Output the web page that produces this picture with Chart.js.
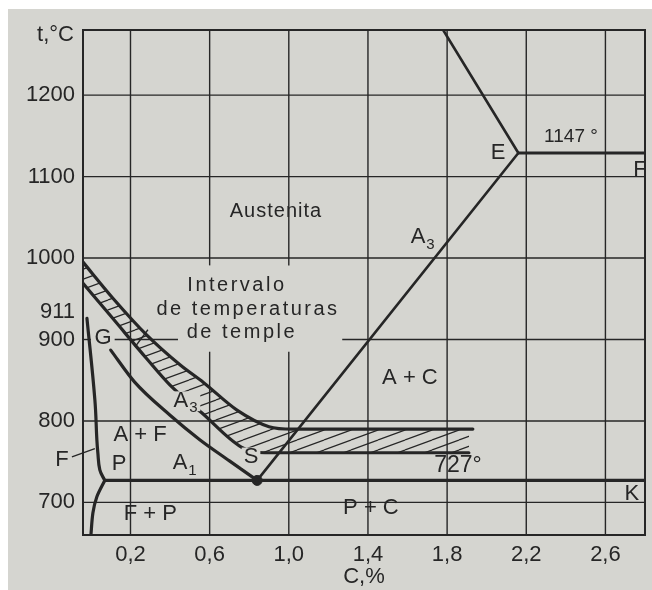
<!DOCTYPE html>
<html>
<head>
<meta charset="utf-8">
<script src="https://cdn.jsdelivr.net/npm/chart.js@4"></script>
<style>
  html, body { margin: 0; padding: 0; background: #fff; }
</style>
</head>
<body>
<canvas id="diagram" width="652" height="590"></canvas>
<script>
const INK = '#262626';
const PAPER = '#d5d5d0';
const FONT = "'Liberation Sans', Arial, sans-serif";

// axes: carbon content (C, %) and temperature (t, °C)
const carbonTicks = [0.2, 0.6, 1.0, 1.4, 1.8, 2.2, 2.6];
const tempTicks = [700, 800, 900, 1000, 1100, 1200];

// diagram lines, pairs of [C %, t °C]
const bandTop = [[-0.04, 995], [0.11, 951], [0.28, 906], [0.45, 869], [0.57, 847], [0.74, 813], [0.90, 793], [1.02, 790], [1.93, 790]];
const bandBottom = [[-0.04, 969], [0.11, 926], [0.28, 877], [0.40, 844], [0.56, 810], [0.76, 768], [0.88, 761], [1.91, 761]];
const lineGS = [[0.10, 887], [0.22, 848], [0.40, 807], [0.55, 777], [0.70, 751], [0.84, 727]];
const lineGP = [[-0.02, 926], [0.02, 826], [0.03, 777], [0.035, 761], [0.045, 740], [0.07, 727]];
const linePQ = [[0.07, 727], [0.03, 707], [0.01, 687], [0.00, 660]];
const linePSK = [[0.07, 727], [2.8, 727]];
const lineES = [[1.78, 1280], [2.16, 1129]];
const lineECF = [[2.16, 1129], [2.8, 1129]];
const lineSE = [[0.84, 727], [2.16, 1129]];
const pointS = [[0.84, 727]];

// the 900 grid line is only drawn in pieces (C ranges)
const line900 = [[-0.04, 0.0], [0.12, 0.44], [1.27, 2.8]];

const labels = [
  { text: 'Austenita', c: 0.935, t: 1057, size: 20, ls: 1 },
  { text: 'Intervalo', c: 0.738, t: 966, size: 20, ls: 2.5 },
  { text: 'de temperaturas', c: 0.794, t: 937, size: 20, ls: 2.5 },
  { text: 'de temple', c: 0.763, t: 909, size: 20, ls: 2.5 },
  { text: 'A', sub: '3', c: 1.653, t: 1026, size: 22 },
  { text: 'A + C', c: 1.612, t: 853, size: 22 },
  { text: 'A', sub: '3', c: 0.455, t: 825, size: 22, knock: true },
  { text: 'A + F', c: 0.248, t: 783, size: 22 },
  { text: 'P', c: 0.142, t: 747, size: 22 },
  { text: 'A', sub: '1', c: 0.45, t: 748, size: 22 },
  { text: 'F + P', c: 0.30, t: 686, size: 22 },
  { text: 'F', c: -0.146, t: 752, size: 22 },
  { text: 'S', c: 0.809, t: 756, size: 22, knock: true },
  { text: '727°', c: 1.855, t: 745, size: 23 },
  { text: 'P + C', c: 1.415, t: 693, size: 22 },
  { text: 'K', c: 2.734, t: 710, size: 22 },
  { text: 'E', c: 2.057, t: 1129, size: 22 },
  { text: '1147 °', c: 2.426, t: 1149, size: 19 },
  { text: 'F', c: 2.775, t: 1108, size: 22 },
  { text: 'G', c: 0.061, t: 902, size: 22 }
];
const leaders = [
  [[-0.096, 756], [0.02, 766]],
  [[0.223, 891], [0.288, 912]]
];

const toXY = arr => arr.map(([x, y]) => ({ x, y }));

function hatchPattern() {
  const tile = document.createElement('canvas');
  tile.width = 27; tile.height = 10;
  const g = tile.getContext('2d');
  g.strokeStyle = INK; g.lineWidth = 1.2;
  for (const k of [-1, 0, 1]) {
    g.beginPath(); g.moveTo(0, 10 + k * 10); g.lineTo(27, k * 10); g.stroke();
  }
  return document.getElementById('diagram').getContext('2d').createPattern(tile, 'repeat');
}

const paper = {
  id: 'paper',
  beforeDraw(chart) {
    const c = chart.ctx;
    c.save();
    c.fillStyle = '#ffffff';
    c.fillRect(0, 0, chart.width, chart.height);
    c.fillStyle = PAPER;
    c.fillRect(8, 9, chart.width - 8, chart.height - 9);
    c.restore();
  }
};

const grid = {
  id: 'grid',
  beforeDatasetsDraw(chart) {
    const { ctx, chartArea: a, scales: { x, y } } = chart;
    const seg = (c0, t0, c1, t1) => {
      ctx.beginPath();
      ctx.moveTo(x.getPixelForValue(c0), y.getPixelForValue(t0));
      ctx.lineTo(x.getPixelForValue(c1), y.getPixelForValue(t1));
      ctx.stroke();
    };
    ctx.save();
    ctx.strokeStyle = INK;
    ctx.lineWidth = 1.4;
    carbonTicks.forEach(v => {
      if (v === 0.6 || v === 1.0) {
        seg(v, y.min, v, 885);
        seg(v, 991, v, y.max);
      } else {
        seg(v, y.min, v, y.max);
      }
    });
    tempTicks.forEach(v => {
      if (v === 900) line900.forEach(([c0, c1]) => seg(c0, v, c1, v));
      else seg(x.min, v, x.max, v);
    });
    ctx.lineWidth = 2;
    ctx.strokeRect(a.left, a.top, a.right - a.left, a.bottom - a.top);
    ctx.restore();
  }
};

const texts = {
  id: 'texts',
  afterDatasetsDraw(chart) {
    const { ctx, chartArea: a, scales: { x, y } } = chart;
    ctx.save();
    ctx.fillStyle = INK;
    ctx.strokeStyle = INK;
    ctx.lineWidth = 1.4;
    leaders.forEach(([p0, p1]) => {
      ctx.beginPath();
      ctx.moveTo(x.getPixelForValue(p0[0]), y.getPixelForValue(p0[1]));
      ctx.lineTo(x.getPixelForValue(p1[0]), y.getPixelForValue(p1[1]));
      ctx.stroke();
    });
    ctx.textBaseline = 'middle';
    labels.forEach(l => {
      const px = x.getPixelForValue(l.c);
      const py = y.getPixelForValue(l.t);
      ctx.font = l.size + 'px ' + FONT;
      ctx.letterSpacing = (l.ls || 0) + 'px';
      ctx.textAlign = 'center';
      const w = ctx.measureText(l.text).width;
      if (l.knock) {
        // labels that interrupt a line sit on a patch of paper
        ctx.fillStyle = PAPER;
        ctx.fillRect(px - w / 2 - 2, py - l.size * 0.42, w + (l.sub ? 14 : 4), l.size * 0.9);
        ctx.fillStyle = INK;
      }
      ctx.fillText(l.text, px, py);
      if (l.sub) {
        ctx.font = Math.round(l.size * 0.7) + 'px ' + FONT;
        ctx.textAlign = 'left';
        ctx.fillText(l.sub, px + w / 2 + 1, py + l.size * 0.35);
      }
    });
    ctx.letterSpacing = '0px';
    ctx.font = '22px ' + FONT;
    ctx.textAlign = 'right';
    ctx.fillText('911', a.left - 8, y.getPixelForValue(934));
    ctx.fillText('t,°C', a.left - 9, y.getPixelForValue(1274));
    ctx.restore();
  }
};

const lineSet = (arr, width, extra) => Object.assign({
  data: toXY(arr), showLine: true, fill: false,
  borderColor: INK, borderWidth: width, pointRadius: 0,
  borderJoinStyle: 'round', borderCapStyle: 'round'
}, extra || {});

new Chart(document.getElementById('diagram'), {
  type: 'scatter',
  data: {
    datasets: [
      lineSet(bandTop, 3.2, { cubicInterpolationMode: 'monotone', fill: '+1', backgroundColor: hatchPattern() }),
      lineSet(bandBottom, 3.2, { cubicInterpolationMode: 'monotone' }),
      lineSet(lineGS, 3.2, { cubicInterpolationMode: 'monotone' }),
      lineSet(lineGP, 3.2, { tension: 0.4 }),
      lineSet(linePQ, 3.2, { tension: 0.3 }),
      lineSet(linePSK, 3.2),
      lineSet(lineES, 2.6),
      lineSet(lineECF, 2.8),
      lineSet(lineSE, 2.6),
      { data: toXY(pointS), pointRadius: 5, pointBackgroundColor: INK, pointBorderColor: INK, showLine: false }
    ]
  },
  options: {
    responsive: false,
    animation: false,
    events: [],
    layout: { padding: { top: 30, right: 7, left: 0, bottom: 0 } },
    plugins: { legend: { display: false }, tooltip: { enabled: false } },
    scales: {
      x: {
        type: 'linear', min: -0.04, max: 2.8,
        afterBuildTicks: s => { s.ticks = carbonTicks.map(v => ({ value: v })); },
        afterFit: s => { s.height = 55; },
        grid: { display: false, drawTicks: false },
        border: { display: false },
        ticks: {
          color: INK, padding: 7, maxRotation: 0, autoSkip: false,
          font: { family: FONT, size: 22 },
          callback: v => v.toFixed(1).replace('.', ',')
        },
        title: { display: true, text: 'C,%', color: INK, font: { family: FONT, size: 22 }, padding: { top: 0, bottom: 0 } }
      },
      y: {
        type: 'linear', min: 660, max: 1280,
        afterBuildTicks: s => { s.ticks = tempTicks.map(v => ({ value: v })); },
        afterFit: s => { s.width = 83; },
        grid: { display: false, drawTicks: false },
        border: { display: false },
        ticks: { color: INK, padding: 8, font: { family: FONT, size: 22 }, callback: v => String(v) }
      }
    }
  },
  plugins: [paper, grid, texts]
});
</script>
</body>
</html>
